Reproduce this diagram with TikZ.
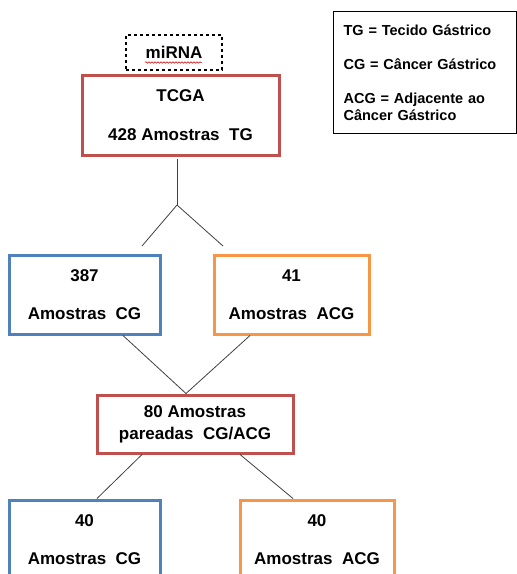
\documentclass[tikz,border=0pt]{standalone}
\usepackage{fontspec}
\setmainfont{Liberation Sans}
\usetikzlibrary{decorations.pathmorphing}
\definecolor{R2}{RGB}{192,80,77}
\definecolor{B2}{RGB}{79,129,189}
\definecolor{O2}{RGB}{247,150,70}

\begin{document}
\begin{tikzpicture}[x=1pt, y=-1pt,
    box/.style={draw, line width=3pt, align=center, inner sep=0pt,
                font=\bfseries\fontsize{17}{38}\selectfont},
    link/.style={draw=black!75, line width=0.8pt}]
      \useasboundingbox (0,0) rectangle (517,574);
      \clip (0,0) rectangle (517,574);
      \node[draw, dashed, line width=1.1pt, minimum width=96pt, minimum height=35pt,
            font=\bfseries\fontsize{17}{20}\selectfont] (mirna) at (174,52.5) {miRNA};
      \draw[red!80!black, line width=0.5pt, decorate,
            decoration={snake, amplitude=0.8pt, segment length=3pt}]
            ([xshift=-29pt,yshift=-10pt]mirna.center) -- ([xshift=28pt,yshift=-10pt]mirna.center);
      \node[box, R2, text=black, minimum width=197pt, minimum height=80pt,
            font=\bfseries\fontsize{17}{39}\selectfont] (tcga) at (180.5,115) {TCGA\\428 Amostras~~TG};
      \node[draw, line width=1.2pt, anchor=north west, minimum width=183pt, minimum height=122pt,
            text width=163pt, align=left, inner sep=10pt,
            font=\bfseries\fontsize{14.5}{17.5}\selectfont] (legenda) at (333,11)
            {TG = Tecido Gástrico\\[17pt]CG = Câncer Gástrico\\[16pt]ACG = Adjacente ao\\Câncer Gástrico\\[6pt]};
      \node[box, B2, text=black, minimum width=151pt, minimum height=79pt] (cg) at (84.5,294.5) {387\\Amostras~~CG};
      \node[box, O2, text=black, minimum width=155pt, minimum height=79pt] (acg) at (291.5,294.5) {41\\Amostras~~ACG};
      \node[box, R2, text=black, minimum width=196pt, minimum height=58pt,
            font=\bfseries\fontsize{17}{22}\selectfont] (par) at (195,424) {80 Amostras\\pareadas~~CG/ACG};
      \node[box, B2, text=black, minimum width=151pt, minimum height=80pt] (cgdois) at (84.5,540) {40\\Amostras~~CG};
      \node[box, O2, text=black, minimum width=154pt, minimum height=80pt] (acgdois) at (317,540) {40\\Amostras~~ACG};
      \coordinate (fork) at (177,205);
      \coordinate (forkL) at (142,246);
      \coordinate (forkR) at (223,246);
      \coordinate (meet) at ([xshift=-9pt]par.north);
      \draw[link] ([xshift=-3.5pt,yshift=-2pt]tcga.south) -- (fork);
      \draw[link] (fork) -- (forkL);
      \draw[link] (fork) -- (forkR);
      \draw[link] ([xshift=38.5pt]cg.south) -- (meet);
      \draw[link] ([xshift=-41.5pt]acg.south) -- (meet);
      \draw[link] ([xshift=-53pt]par.south) -- ([xshift=12.5pt]cgdois.north);
      \draw[link] ([xshift=45pt]par.south) -- ([xshift=-24pt]acgdois.north);
    \end{tikzpicture}
\end{document}
